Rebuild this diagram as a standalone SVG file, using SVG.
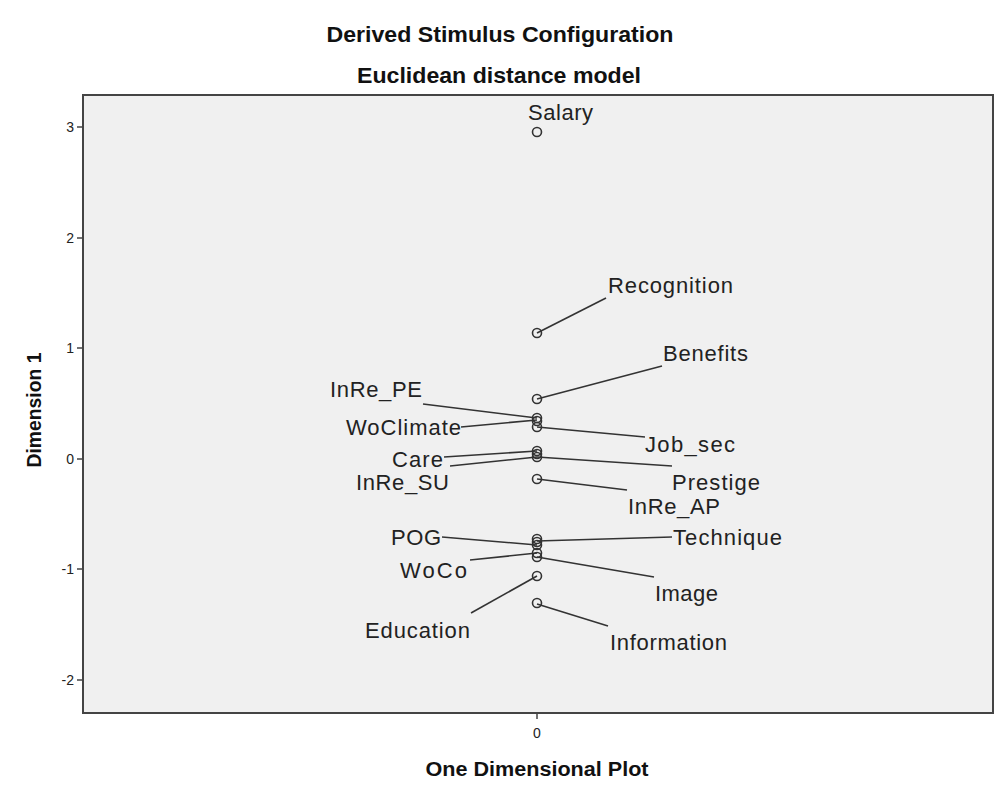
<svg xmlns="http://www.w3.org/2000/svg" width="1001" height="800" viewBox="0 0 1001 800">
<style>
.t{font-family:"Liberation Sans",Arial,sans-serif;font-size:22px;fill:#222}
.b{font-family:"Liberation Sans",Arial,sans-serif;font-size:22px;font-weight:bold;fill:#111}
.a{font-family:"Liberation Sans",Arial,sans-serif;font-size:20px;font-weight:bold;fill:#111}
.k{font-family:"Liberation Sans",Arial,sans-serif;font-size:14px;fill:#222}
.p{fill:none;stroke:#333;stroke-width:1.6}
.c line{stroke:#333;stroke-width:1.6}
</style>
<rect width="1001" height="800" fill="#fff"/>
<text class="b" x="500" y="42" text-anchor="middle" textLength="347" lengthAdjust="spacingAndGlyphs">Derived Stimulus Configuration</text>
<text class="b" x="499" y="83" text-anchor="middle" textLength="284" lengthAdjust="spacingAndGlyphs">Euclidean distance model</text>
<g id="plot">
<rect x="83" y="95" width="910" height="618" fill="#f0f0f0" stroke="#444" stroke-width="2"/>
<g stroke="#444" stroke-width="1.5">
<line x1="77" y1="127" x2="83" y2="127"/><line x1="77" y1="238" x2="83" y2="238"/>
<line x1="77" y1="348" x2="83" y2="348"/><line x1="77" y1="459" x2="83" y2="459"/>
<line x1="77" y1="569" x2="83" y2="569"/><line x1="77" y1="680" x2="83" y2="680"/>
<line x1="537" y1="713" x2="537" y2="719"/>
</g>
<g class="k" text-anchor="end">
<text x="74" y="132">3</text><text x="74" y="243">2</text><text x="74" y="353">1</text>
<text x="74" y="464">0</text><text x="74" y="574">-1</text><text x="74" y="685">-2</text>
</g>
<text class="k" x="537" y="738" text-anchor="middle">0</text>
</g>
<text class="a" x="0" y="0" text-anchor="middle" transform="translate(41 410) rotate(-90)" textLength="115" lengthAdjust="spacingAndGlyphs">Dimension 1</text>
<text class="a" x="537" y="776" text-anchor="middle" textLength="223" lengthAdjust="spacingAndGlyphs">One Dimensional Plot</text>
<g id="connectors" class="c">
<line x1="537" y1="333" x2="606" y2="298"/>
<line x1="537" y1="399" x2="662" y2="366"/>
<line x1="423" y1="404" x2="537" y2="418"/>
<line x1="461" y1="427" x2="537" y2="420"/>
<line x1="537" y1="427" x2="645" y2="437"/>
<line x1="444" y1="457" x2="537" y2="451"/>
<line x1="450" y1="466" x2="537" y2="457"/>
<line x1="537" y1="457" x2="672" y2="466"/>
<line x1="537" y1="479" x2="627" y2="490"/>
<line x1="442" y1="537" x2="537" y2="545"/>
<line x1="537" y1="541" x2="672" y2="537"/>
<line x1="470" y1="560" x2="537" y2="553"/>
<line x1="537" y1="557" x2="654" y2="577"/>
<line x1="471" y1="613" x2="537" y2="576"/>
<line x1="537" y1="604" x2="608" y2="626"/>
</g>
<g id="points">
<circle class="p" cx="537" cy="132" r="4.5"/><circle class="p" cx="537" cy="333" r="4.5"/>
<circle class="p" cx="537" cy="399" r="4.5"/><circle class="p" cx="537" cy="418" r="4.5"/>
<circle class="p" cx="537" cy="421" r="4.5"/><circle class="p" cx="537" cy="427" r="4.5"/>
<circle class="p" cx="537" cy="451" r="4.5"/><circle class="p" cx="537" cy="454" r="4.5"/>
<circle class="p" cx="537" cy="457" r="4.5"/><circle class="p" cx="537" cy="479" r="4.5"/>
<circle class="p" cx="537" cy="539" r="4.5"/><circle class="p" cx="537" cy="542" r="4.5"/>
<circle class="p" cx="537" cy="545" r="4.5"/><circle class="p" cx="537" cy="553" r="4.5"/>
<circle class="p" cx="537" cy="557" r="4.5"/><circle class="p" cx="537" cy="576" r="4.5"/>
<circle class="p" cx="537" cy="603" r="4.5"/>
</g>
<g id="labels" class="t">
<text x="528" y="120" textLength="65">Salary</text>
<text x="608" y="293" textLength="125">Recognition</text>
<text x="663" y="361" textLength="85">Benefits</text>
<text x="330" y="397" textLength="92">InRe_PE</text>
<text x="346" y="435" textLength="115">WoClimate</text>
<text x="645" y="452" textLength="90">Job_sec</text>
<text x="392" y="467" textLength="51">Care</text>
<text x="356" y="490" textLength="93">InRe_SU</text>
<text x="672" y="490" textLength="88">Prestige</text>
<text x="628" y="514" textLength="92">InRe_AP</text>
<text x="391" y="545" textLength="50">POG</text>
<text x="673" y="545" textLength="109">Technique</text>
<text x="400" y="578" textLength="67">WoCo</text>
<text x="655" y="601" textLength="63">Image</text>
<text x="365" y="638" textLength="105">Education</text>
<text x="610" y="650" textLength="117">Information</text>
</g>
</svg>
